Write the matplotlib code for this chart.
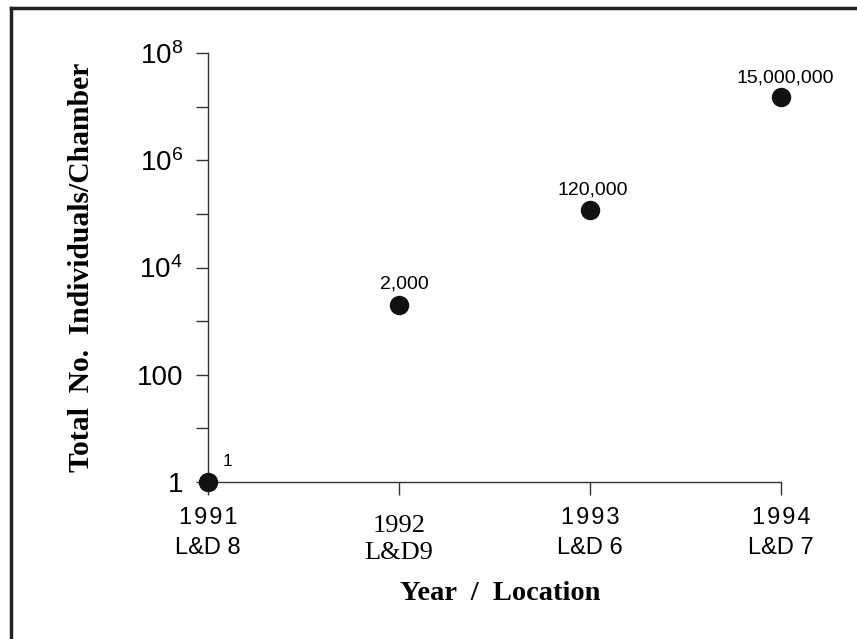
import matplotlib
matplotlib.use("Agg")
import matplotlib.pyplot as plt
from matplotlib.lines import Line2D
from matplotlib.transforms import ScaledTranslation

years = [1991, 1992, 1993, 1994]
sites = ["L&D 8", "L&D9", "L&D 6", "L&D 7"]
counts = [1, 2000, 120000, 15000000]
count_labels = ["1", "2,000", "120,000", "15,000,000"]
ytick_vals = [1, 100, 1e4, 1e6, 1e8]
ytick_labels = ["1", "100", "$10^4$", "$10^6$", "$10^8$"]

plt.rcParams["mathtext.fontset"] = "custom"
plt.rcParams["mathtext.rm"] = "Liberation Sans"
plt.rcParams["mathtext.it"] = "Liberation Sans"
sans = "Liberation Sans"
serif = "Liberation Serif"

fig = plt.figure(figsize=(8.57, 6.39), dpi=100)
ax = fig.add_axes([0.2427, 0.2457, 0.6686, 0.6713])

ax.plot(years, counts, "o", color="#111111", markersize=13, clip_on=False, zorder=5)
ax.set_yscale("log")
ax.set_ylim(1, 1e8)
ax.set_xlim(1991, 1994)

for sp in ["top", "right"]:
    ax.spines[sp].set_visible(False)
for sp in ["left", "bottom"]:
    ax.spines[sp].set_color("#333333")
    ax.spines[sp].set_linewidth(1.0)

ax.set_yticks(ytick_vals)
ax.set_yticklabels(ytick_labels, fontfamily=sans, fontsize=20)
ax.set_yticks([10, 1e3, 1e5, 1e7], minor=True)
ax.yaxis.set_minor_formatter(plt.NullFormatter())
ax.tick_params(axis="y", which="both", length=9, width=1, color="#333333", pad=9)

# the printed years are letter-spaced, so put hair spaces between the digits
spaced = ["\u200a".join(str(y)) for y in years]
spaced[1] = str(years[1])
ax.set_xticks(years)
ax.tick_params(axis="x", length=9, width=1, color="#333333", pad=9)
xlabels = ax.set_xticklabels([f"{y}\n{s}" for y, s in zip(spaced, sites)],
                             fontfamily=sans, fontsize=17, linespacing=1.5)
# 1992 label was set in a serif face and sits a bit lower
xlabels[1].set_fontfamily(serif)
xlabels[1].set_fontsize(19)
xlabels[1].set_linespacing(1.3)
xlabels[1].set_transform(xlabels[1].get_transform()
                         + ScaledTranslation(0, -8 / 100, fig.dpi_scale_trans))

offsets = [(14, 15), (4, 15), (2, 14), (3, 14)]
for x, y, lab, off in zip(years, counts, count_labels, offsets):
    fs = 12.5 if lab == "1" else 14
    ax.annotate(lab, (x, y), xytext=off, textcoords="offset points",
                ha="center", va="center", fontsize=fs, fontfamily=sans,
                annotation_clip=False)

ax.set_ylabel("Total  No.  Individuals/Chamber", fontfamily=serif,
              fontweight="bold", fontsize=21.3, labelpad=30)
ax.set_xlabel("Year  /  Location", fontfamily=serif, fontweight="bold",
              fontsize=20.5, labelpad=12, x=0.51)

# frame around the figure (top and left visible)
fig.add_artist(Line2D([11 / 857, 11 / 857], [0, 1 - 8 / 639], transform=fig.transFigure,
                      color="#222222", linewidth=2.5))
fig.add_artist(Line2D([11 / 857, 1], [1 - 8 / 639, 1 - 8 / 639], transform=fig.transFigure,
                      color="#222222", linewidth=2.5))

fig.savefig("out.png", dpi=100)
